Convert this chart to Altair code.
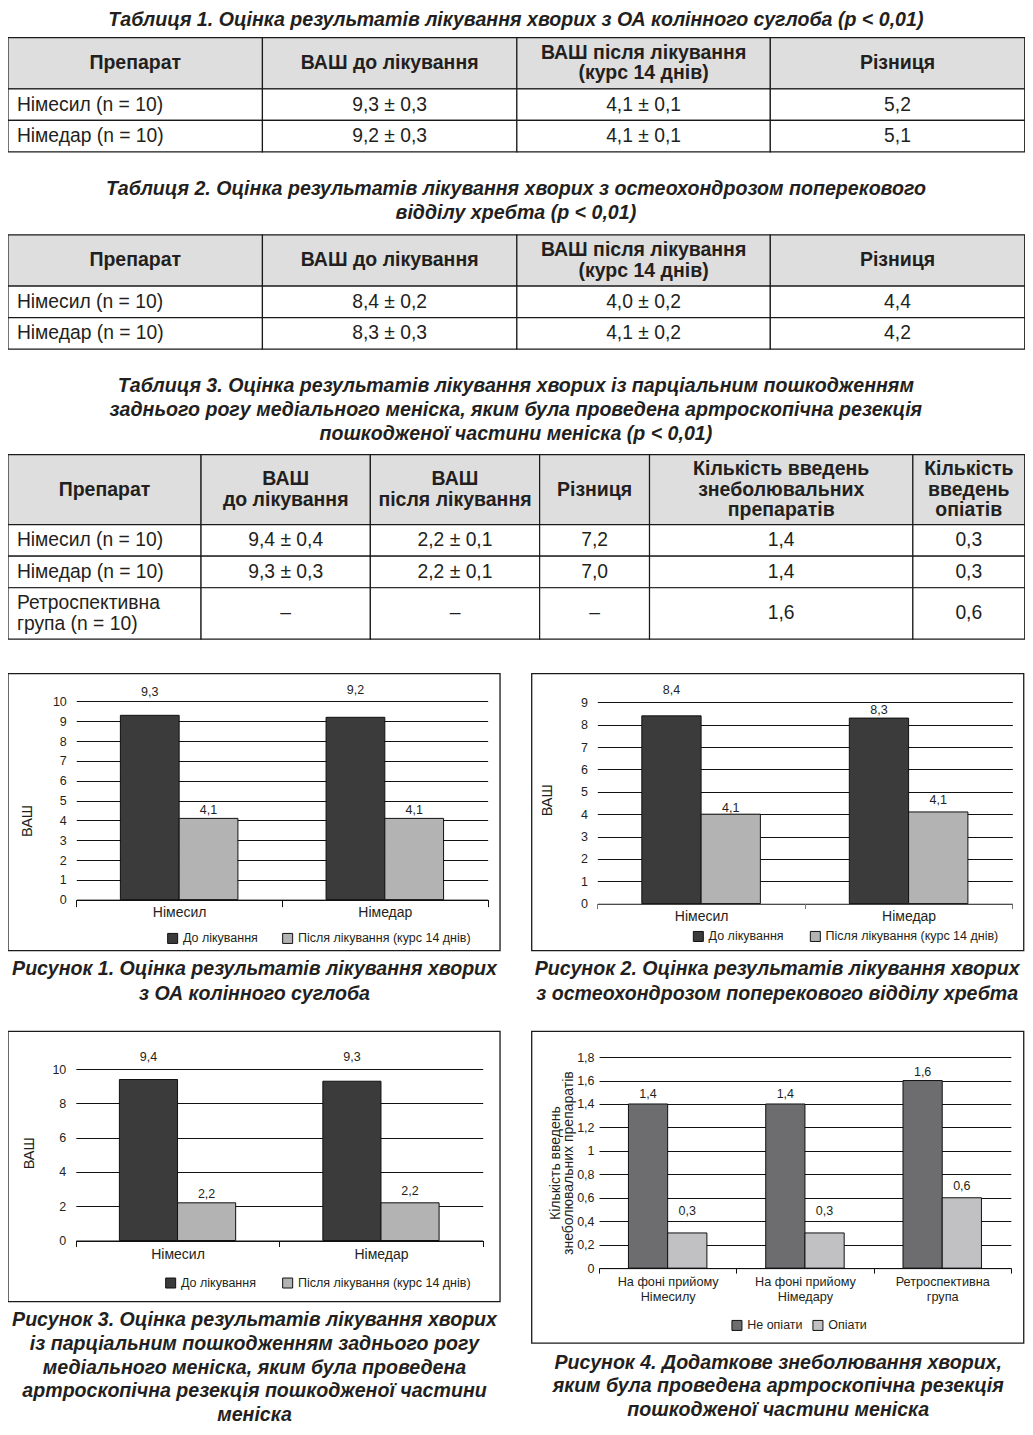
import altair as alt
import pandas as pd

# ------------------------------------------------------------------ data
t1_title = ["Таблиця 1. Оцінка результатів лікування хворих з ОА колінного суглоба (p < 0,01)"]
t2_title = ["Таблиця 2. Оцінка результатів лікування хворих з остеохондрозом поперекового",
            "відділу хребта (p < 0,01)"]
t3_title = ["Таблиця 3. Оцінка результатів лікування хворих із парціальним пошкодженням",
            "заднього рогу медіального меніска, яким була проведена артроскопічна резекція",
            "пошкодженої частини меніска (p < 0,01)"]

t12_header = ["Препарат", "ВАШ до лікування", "ВАШ після лікування\n(курс 14 днів)", "Різниця"]
t1_rows = [["Німесил (n = 10)", "9,3 ± 0,3", "4,1 ± 0,1", "5,2"],
           ["Німедар (n = 10)", "9,2 ± 0,3", "4,1 ± 0,1", "5,1"]]
t2_rows = [["Німесил (n = 10)", "8,4 ± 0,2", "4,0 ± 0,2", "4,4"],
           ["Німедар (n = 10)", "8,3 ± 0,3", "4,1 ± 0,2", "4,2"]]
t3_header = ["Препарат", "ВАШ\nдо лікування", "ВАШ\nпісля лікування", "Різниця",
             "Кількість введень\nзнеболювальних\nпрепаратів", "Кількість\nвведень\nопіатів"]
t3_rows = [["Німесил (n = 10)", "9,4 ± 0,4", "2,2 ± 0,1", "7,2", "1,4", "0,3"],
           ["Німедар (n = 10)", "9,3 ± 0,3", "2,2 ± 0,1", "7,0", "1,4", "0,3"],
           ["Ретроспективна\nгрупа (n = 10)", "–", "–", "–", "1,6", "0,6"]]

fig1_caption = ["Рисунок 1. Оцінка результатів лікування хворих", "з ОА колінного суглоба"]
fig2_caption = ["Рисунок 2. Оцінка результатів лікування хворих",
                "з остеохондрозом поперекового відділу хребта"]
fig3_caption = ["Рисунок 3. Оцінка результатів лікування хворих",
                "із парціальним пошкодженням заднього рогу",
                "медіального меніска, яким була проведена",
                "артроскопічна резекція пошкодженої частини",
                "меніска"]
fig4_caption = ["Рисунок 4. Додаткове знеболювання хворих,",
                "яким була проведена артроскопічна резекція",
                "пошкодженої частини меніска"]

vas_cats = ["Німесил", "Німедар"]
vas_series = ["До лікування", "Після лікування (курс 14 днів)"]

fig1_before = [9.3, 9.2]
fig1_after = [4.1, 4.1]
fig1_before_lab = ["9,3", "9,2"]
fig1_after_lab = ["4,1", "4,1"]

fig2_before = [8.4, 8.3]
fig2_after = [4.0, 4.1]
fig2_before_lab = ["8,4", "8,3"]
fig2_after_lab = ["4,1", "4,1"]

fig3_before = [9.4, 9.3]
fig3_after = [2.2, 2.2]
fig3_before_lab = ["9,4", "9,3"]
fig3_after_lab = ["2,2", "2,2"]

fig4_cats = ["На фоні прийому\nНімесилу", "На фоні прийому\nНімедару", "Ретроспективна\nгрупа"]
fig4_series = ["Не опіати", "Опіати"]
fig4_non_opioid = [1.4, 1.4, 1.6]
fig4_opioid = [0.3, 0.3, 0.6]
fig4_non_opioid_lab = ["1,4", "1,4", "1,6"]
fig4_opioid_lab = ["0,3", "0,3", "0,6"]

vas_y_title = "ВАШ"
fig4_y_title = ["Кількість введень", "знеболювальних препаратів"]

# ------------------------------------------------------------------ layout
SX, OX = 0.99, 3.0       # reference px -> canvas px
SY, OY = 0.986, 0.0
W = 1017
H = 1419
FONT = "Liberation Sans"
INK = "#231f20"
HEAD_BG = "#dedede"


def cx(v):
    return round((v - OX) * SX, 2)


def cy(v):
    return round((v - OY) * SY, 2)


t12_cols = [3, 260, 517, 773, 1030]
t1_rowsy = [30, 82, 114, 146]
t2_rowsy = [230, 282, 314, 346]
t3_cols = [3, 198, 369, 540, 651, 917, 1030]
t3_rowsy = [453, 524, 556, 588, 640]
HEAD_LH = 20.5
BODY_LH = 21

title_lines = [(t1_title, 516, [12.5]), (t2_title, 516, [184, 208]),
               (t3_title, 516, [383, 408, 432]),
               (fig1_caption, 252, [975, 1000]), (fig2_caption, 780, [975, 1000]),
               (fig3_caption, 252, [1331, 1355, 1379, 1403, 1427]),
               (fig4_caption, 781, [1374, 1398, 1422])]

frames = [(3, 675, 500, 956), (532, 675, 1029, 956), (3, 1038, 500, 1312), (532, 1038, 1029, 1354)]


def first_line_y(text, yc, lh):
    n = text.count("\n") + 1
    return round(cy(yc) - (n - 1) * lh / 2, 2)


def table_parts(xs, ys, header, rows):
    rects, head, body_c, body_l = [], [], [], []
    for j in range(len(xs) - 1):
        for i in range(len(ys) - 1):
            rects.append(dict(x=cx(xs[j]), x2=cx(xs[j + 1]), y=cy(ys[i]), y2=cy(ys[i + 1]),
                              fill=HEAD_BG if i == 0 else "white"))
    for j, h in enumerate(header):
        head.append(dict(x=cx((xs[j] + xs[j + 1]) / 2),
                         y=first_line_y(h, (ys[0] + ys[1]) / 2, HEAD_LH), text=h))
    for i, row in enumerate(rows):
        yc = (ys[i + 1] + ys[i + 2]) / 2
        for j, v in enumerate(row):
            if j == 0:
                body_l.append(dict(x=cx(xs[0] + 9), y=first_line_y(v, yc, BODY_LH), text=v))
            else:
                body_c.append(dict(x=cx((xs[j] + xs[j + 1]) / 2), y=first_line_y(v, yc, BODY_LH), text=v))
    return rects, head, body_c, body_l


rects, heads, bodyc, bodyl = [], [], [], []
for xs, ys, hd, rw in [(t12_cols, t1_rowsy, t12_header, t1_rows),
                       (t12_cols, t2_rowsy, t12_header, t2_rows),
                       (t3_cols, t3_rowsy, t3_header, t3_rows)]:
    a, b, cc, d = table_parts(xs, ys, hd, rw)
    rects += a
    heads += b
    bodyc += cc
    bodyl += d

titles = []
for lines, xc, ys in title_lines:
    for t, yy in zip(lines, ys):
        titles.append(dict(x=cx(xc), y=cy(yy), text=t))

frame_df = pd.DataFrame([dict(x=cx(a), y=cy(b), x2=cx(c2), y2=cy(d)) for a, b, c2, d in frames])

PX = alt.Scale(domain=[0, W], range=[0, W], nice=False, zero=False)
PY = alt.Scale(domain=[0, H], range=[0, H], nice=False, zero=False)


def pxy(ch):
    return ch.encode(x=alt.X("x:Q", scale=PX, axis=None), y=alt.Y("y:Q", scale=PY, axis=None))


cells = pxy(alt.Chart(pd.DataFrame(rects)).mark_rect(stroke="#1a1a1a", strokeWidth=1.2)).encode(
    x2="x2:Q", y2="y2:Q", fill=alt.Fill("fill:N", scale=None))
frame_layer = pxy(alt.Chart(frame_df).mark_rect(fillOpacity=0, stroke="#1a1a1a", strokeWidth=1.3)).encode(
    x2="x2:Q", y2="y2:Q")
head_layer = pxy(alt.Chart(pd.DataFrame(heads)).mark_text(
    font=FONT, fontSize=19.5, fontWeight="bold", color=INK, align="center", baseline="middle",
    lineBreak="\n", lineHeight=HEAD_LH)).encode(text="text:N")
bodyc_layer = pxy(alt.Chart(pd.DataFrame(bodyc)).mark_text(
    font=FONT, fontSize=19.3, color=INK, align="center", baseline="middle",
    lineBreak="\n", lineHeight=BODY_LH)).encode(text="text:N")
bodyl_layer = pxy(alt.Chart(pd.DataFrame(bodyl)).mark_text(
    font=FONT, fontSize=19.3, color=INK, align="left", baseline="middle",
    lineBreak="\n", lineHeight=BODY_LH)).encode(text="text:N")
title_layer = pxy(alt.Chart(pd.DataFrame(titles)).mark_text(
    font=FONT, fontSize=19.6, fontWeight="bold", fontStyle="italic", color=INK,
    align="center", baseline="middle")).encode(text="text:N")

page = alt.layer(cells, frame_layer, head_layer, bodyc_layer, bodyl_layer, title_layer)

# geometry of the four bar charts (reference px)
g1 = dict(x0=72, x1=487.5, y0=904.3, ytop=703.3, ymax=10, yvals=list(range(0, 11)),
          tick=7, lpad=-1, catfs=14, catlh=15, axc="#111", ylpad=10, pad=0.75,
          tx=22.5, ty=824, tfs=14.5, lgx=163, lgy=943, colpad=22,
          lift_a=[24, 27.5], lift_b=[8.5, 8.5], colors=["#3b3b3b", "#b3b3b3"])
g2 = dict(x0=598.3, x1=1017.5, y0=908.3, ytop=704.3, ymax=9, yvals=list(range(0, 10)),
          tick=5, lpad=1, catfs=14, catlh=15, axc="#777", ylpad=10, pad=0.75,
          tx=548.3, ty=803, tfs=14.5, lgx=694, lgy=941, colpad=24,
          lift_a=[26, 8.4], lift_b=[6.6, 12.4], colors=["#3b3b3b", "#b3b3b3"])
g3 = dict(x0=71.5, x1=482.5, y0=1250, ytop=1076.3, ymax=10, yvals=[0, 2, 4, 6, 8, 10],
          tick=6, lpad=1, catfs=14, catlh=15, axc="#111", ylpad=10, pad=0.75,
          tx=25, ty=1161, tfs=14.5, lgx=161, lgy=1292.5, colpad=24,
          lift_a=[22.7, 24.7], lift_b=[9, 12.3], colors=["#3b3b3b", "#b3b3b3"])
g4 = dict(x0=600, x1=1016, y0=1278, ytop=1064, ymax=1.8,
          yvals=[0, 0.2, 0.4, 0.6, 0.8, 1, 1.2, 1.4, 1.6, 1.8],
          tick=5, lpad=2, catfs=12.7, catlh=15, axc="#111", ylpad=5, pad=0.75,
          tx=556, ty=1171, tfs=14, lgx=733, lgy=1335.5, colpad=8,
          lift_a=[10.2, 10.2, 9], lift_b=[22.6, 22.6, 12.3], colors=["#6d6d6f", "#c1c1c4"])


def figure(cats, series, va, vb, la, lb, ytitle, g):
    ppu = (cy(g["y0"]) - cy(g["ytop"])) / g["ymax"]
    rows = []
    for k, cat in enumerate(cats):
        rows.append(dict(cat=cat, series=series[0], value=va[k], label=la[k],
                         ly=va[k] + g["lift_a"][k] * SY / ppu))
        rows.append(dict(cat=cat, series=series[1], value=vb[k], label=lb[k],
                         ly=vb[k] + g["lift_b"][k] * SY / ppu))
    df = pd.DataFrame(rows)
    xs = alt.Scale(domain=cats, range=[cx(g["x0"]), cx(g["x1"])], paddingInner=0, paddingOuter=0)
    xo = alt.Scale(domain=series, paddingInner=0, paddingOuter=g["pad"])
    ys = alt.Scale(domain=[0, g["ymax"]], range=[cy(g["y0"]), cy(g["ytop"])], nice=False, zero=True)
    col = alt.Scale(domain=series, range=g["colors"])
    xaxis = alt.Axis(orient="bottom", offset=round(cy(g["y0"]) - H, 2), title=None, tickBand="extent",
                     tickSize=g["tick"], tickColor=g["axc"], tickWidth=1, domainColor=g["axc"],
                     domainWidth=1, labelFont=FONT, labelFontSize=g["catfs"], labelColor=INK,
                     labelPadding=g["lpad"], labelAngle=0, labelLineHeight=g["catlh"],
                     labelExpr="split(datum.label, '\\n')", grid=False)
    yaxis = alt.Axis(orient="left", offset=-cx(g["x0"]), values=g["yvals"], format=".1~f",
                     labelExpr="replace(datum.label, '.', ',')", domain=False, ticks=False,
                     labelPadding=g["ylpad"], labelFont=FONT, labelFontSize=12.5, labelColor=INK,
                     grid=True, gridColor="#111", gridWidth=1, gridOpacity=1,
                     title=ytitle, titleFont=FONT, titleFontSize=g["tfs"], titleFontWeight="normal",
                     titleColor=INK, titleX=round(cx(g["tx"]) - cx(g["x0"]), 2), titleY=cy(g["ty"]),
                     titleAngle=270, titleAlign="center", titleBaseline="middle",
                     titleLineHeight=13.5)
    legend = alt.Legend(orient="none", legendX=cx(g["lgx"]), legendY=round(cy(g["lgy"]) - 6, 2),
                        direction="horizontal", title=None, symbolType="square", symbolSize=100,
                        symbolStrokeColor="#111", symbolStrokeWidth=1, symbolOpacity=1,
                        labelFont=FONT, labelFontSize=12.5, labelColor=INK, labelOffset=4,
                        columnPadding=g["colpad"], padding=0, labelLimit=400)
    bars = alt.Chart(df).mark_bar(stroke="#111", strokeWidth=1, opacity=1).encode(
        x=alt.X("cat:N", scale=xs, sort=cats, axis=xaxis),
        xOffset=alt.XOffset("series:N", scale=xo, sort=series),
        y=alt.Y("value:Q", scale=ys, axis=yaxis),
        color=alt.Color("series:N", scale=col, sort=series, legend=legend),
    )
    # same axis objects in both layers so the shared axes merge cleanly
    labels = alt.Chart(df).mark_text(font=FONT, fontSize=12.5, color=INK, baseline="middle",
                                     align="center").encode(
        x=alt.X("cat:N", scale=xs, sort=cats, axis=xaxis),
        xOffset=alt.XOffset("series:N", scale=xo, sort=series),
        y=alt.Y("ly:Q", scale=ys, axis=yaxis),
        text="label:N",
    )
    return alt.layer(bars, labels)


f1 = figure(vas_cats, vas_series, fig1_before, fig1_after, fig1_before_lab, fig1_after_lab, vas_y_title, g1)
f2 = figure(vas_cats, vas_series, fig2_before, fig2_after, fig2_before_lab, fig2_after_lab, vas_y_title, g2)
f3 = figure(vas_cats, vas_series, fig3_before, fig3_after, fig3_before_lab, fig3_after_lab, vas_y_title, g3)
f4 = figure(fig4_cats, fig4_series, fig4_non_opioid, fig4_opioid, fig4_non_opioid_lab, fig4_opioid_lab,
            fig4_y_title, g4)

chart = alt.layer(page, f1, f2, f3, f4).resolve_scale(
    x="independent", y="independent", xOffset="independent", color="independent"
).resolve_axis(x="independent", y="independent").resolve_legend(color="independent").properties(
    width=W, height=H, padding=0, autosize=alt.AutoSizeParams(type="none")
).configure_view(stroke=None)

chart.save("out.html", embed_options={"renderer": "svg", "actions": False})
